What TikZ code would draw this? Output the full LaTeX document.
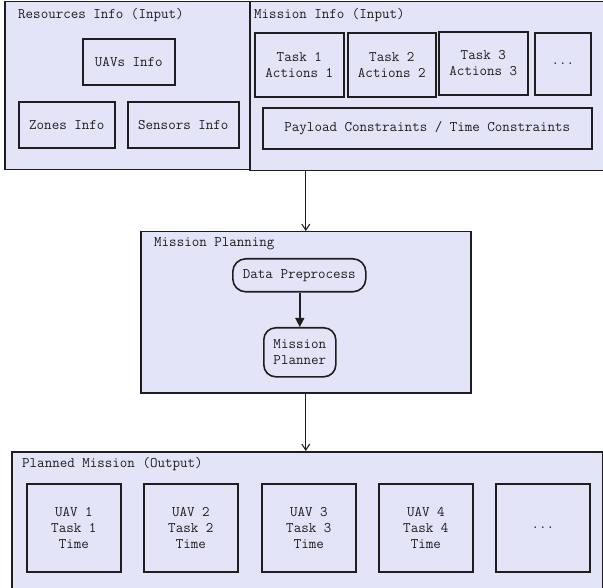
\documentclass[tikz,border=0pt]{standalone}
\usepackage{fontspec}
\usetikzlibrary{arrows.meta}
\definecolor{boxfill}{RGB}{228,228,249}
\definecolor{edge}{RGB}{30,30,30}
\begin{document}
\begin{tikzpicture}[x=1pt,y=-1pt,
  every node/.style={font=\ttfamily\fontsize{14.6}{16}\selectfont, text=edge},
  container/.style={draw=edge, line width=1.5pt, fill=boxfill, anchor=north west, inner sep=0pt},
  item/.style={draw=edge, line width=1.6pt, fill=boxfill, anchor=north west, inner sep=0pt, align=center},
  pill/.style={item, rounded corners=13pt},
  title/.style={anchor=west, inner sep=0pt},
  flow/.style={draw=edge, line width=1.1pt, -{Straight Barb[length=6pt,width=8pt]}},
  inner/.style={draw=edge, line width=1.4pt, -{Triangle[length=9pt,width=9pt]}}
]
\useasboundingbox (0,0) rectangle (603,588);
\fill[white] (0,0) rectangle (603,588);

% Top containers
\node[container, minimum width=245pt, minimum height=168pt] (res) at (4,1) {};
\node[container, minimum width=356pt, minimum height=169pt] (mis) at (249,1) {};
\node[title] (restitle) at (18,15) {Resources Info (Input)};
\node[title] (mistitle) at (254,15) {Mission Info (Input)};

\node[item, minimum width=92pt, minimum height=46pt] (uavs) at (82,38) {UAVs Info};
\node[item, minimum width=96pt, minimum height=46pt] (zones) at (18,101) {Zones Info};
\node[item, minimum width=111pt, minimum height=46pt] (sensors) at (127,101) {Sensors Info};

\node[item, minimum width=89pt, minimum height=64pt] (t1) at (254,32) {Task 1\\Actions 1};
\node[item, minimum width=88pt, minimum height=64pt] (t2) at (347,32) {Task 2\\Actions 2};
\node[item, minimum width=89pt, minimum height=63pt] (t3) at (438,31) {Task 3\\Actions 3};
\node[item, minimum width=56pt, minimum height=62pt] (tdots) at (534,32) {...};
\node[item, minimum width=329pt, minimum height=41pt] (payload) at (262,107) {Payload Constraints / Time Constraints};

% Middle
\node[container, minimum width=330pt, minimum height=161pt] (plan) at (140,231) {};
\node[title] (plantitle) at (154,244) {Mission Planning};
\node[pill, minimum width=133pt, minimum height=33pt] (dp) at (232,258) {Data Preprocess};
\node[pill, rounded corners=12pt, minimum width=72pt, minimum height=49pt] (mp) at (263,327) {Mission\\Planner};

% Bottom
\node[container, minimum width=591pt, minimum height=150pt] (out) at (11,451) {};
\node[title] (outtitle) at (22,464) {Planned Mission (Output)};
\node[item, minimum width=94pt, minimum height=88pt] (u1) at (26,483) {UAV 1\\Task 1\\Time};
\node[item, minimum width=94pt, minimum height=88pt] (u2) at (143,483) {UAV 2\\Task 2\\Time};
\node[item, minimum width=94pt, minimum height=88pt] (u3) at (261,483) {UAV 3\\Task 3\\Time};
\node[item, minimum width=94pt, minimum height=88pt] (u4) at (378,483) {UAV 4\\Task 4\\Time};
\node[item, minimum width=94pt, minimum height=88pt] (u5) at (495,483) {...};

% Connectors
\draw[flow] (plan.north |- mis.south) -- (plan.north);
\draw[inner] (dp.south -| mp.north) -- (mp.north);
\draw[flow] (plan.south) -- (plan.south |- out.north);
\end{tikzpicture}
\end{document}
